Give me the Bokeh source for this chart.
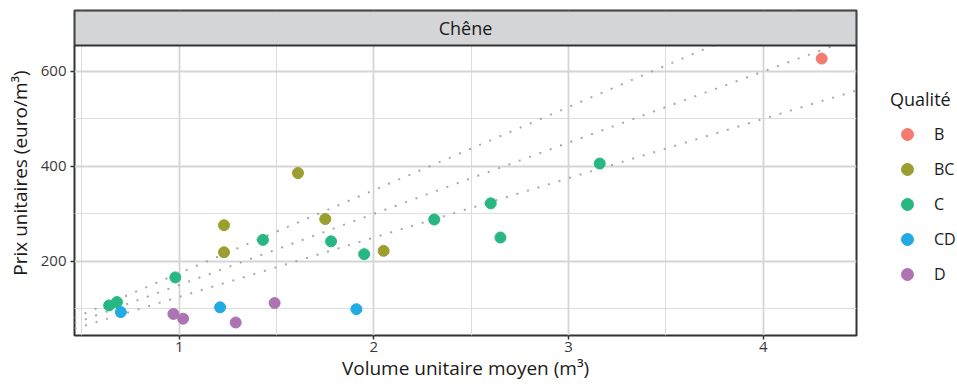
from bokeh.plotting import figure
from bokeh.layouts import row
from bokeh.models import Range1d, FixedTicker, Legend, LegendItem
from bokeh.embed import file_html
from bokeh.resources import INLINE
from bokeh.core.properties import value

# ---- data ----
qualites = ["B", "BC", "C", "CD", "D"]
couleurs = ["#F37B70", "#9C9E2F", "#27B783", "#22AAE2", "#AD73B3"]

vol_B = [4.30]
prix_B = [627]
vol_BC = [1.23, 1.23, 1.61, 1.75, 2.05]
prix_BC = [276, 219, 386, 289, 222]
vol_C = [0.64, 0.68, 0.98, 1.43, 1.78, 1.95, 2.31, 2.60, 2.65, 3.16]
prix_C = [107, 114, 166, 245, 242, 215, 288, 322, 250, 406]
vol_CD = [0.70, 1.21, 1.91]
prix_CD = [93, 103, 99]
vol_D = [0.97, 1.02, 1.29, 1.49]
prix_D = [89, 79, 71, 112]

pentes = [125, 150, 175]  # prix = pente * volume (dotted reference lines)

x_ticks = [1, 2, 3, 4]
x_minor = [0.5, 1.5, 2.5, 3.5]
y_ticks = [200, 400, 600]
y_minor = [100, 300, 500]

facet = "Chêne"
x_title = "Volume unitaire moyen (m³)"
y_title = "Prix unitaires (euro/m³)"
legend_title = "Qualité"

# ---- ranges (panel + strip) ----
X0, X1 = 0.462, 4.479
Y0, Y_PANEL_TOP, Y_TOP = 43.6, 654.7, 728.4

FONT = "Open Sans"
DARK = "#333333"
TXT = "#1a1a1a"

p = figure(width=870, height=388, output_backend="svg", toolbar_location=None,
           x_range=Range1d(X0, X1), y_range=Range1d(Y0, Y_TOP),
           min_border_left=74, min_border_right=14,
           min_border_top=10, min_border_bottom=53)
p.background_fill_color = "white"
p.border_fill_color = "white"
p.outline_line_color = DARK
p.outline_line_width = 2

p.xaxis.ticker = FixedTicker(ticks=x_ticks, minor_ticks=x_minor)
p.yaxis.ticker = FixedTicker(ticks=y_ticks, minor_ticks=y_minor)

for g in (p.xgrid, p.ygrid):
    g.grid_line_color = "#d5d5d5"
    g.grid_line_width = 1.8
    g.minor_grid_line_color = "#dddddd"
    g.minor_grid_line_width = 1.0

for ax in (p.xaxis, p.yaxis):
    ax.axis_line_color = None
    ax.major_tick_line_color = DARK
    ax.major_tick_line_width = 1.5
    ax.major_tick_out = 4
    ax.major_tick_in = 0
    ax.minor_tick_line_color = None
    ax.major_label_text_font = FONT
    ax.major_label_text_font_size = "15px"
    ax.major_label_text_color = "#3a3a3a"
    ax.axis_label_text_font = FONT
    ax.axis_label_text_font_size = "19px"
    ax.axis_label_text_font_style = "normal"
    ax.axis_label_text_color = TXT

p.xaxis.axis_label = x_title
p.yaxis.axis_label = y_title
p.xaxis.major_label_standoff = 2
p.yaxis.major_label_standoff = 4
p.xaxis.axis_label_standoff = 0
p.yaxis.axis_label_standoff = 5

# dotted reference lines
for k in pentes:
    p.line([X0, X1], [k * X0, k * X1], line_color="#a8a8a8", line_width=2,
           line_dash="2 9")

series = [(vol_B, prix_B), (vol_BC, prix_BC), (vol_C, prix_C),
          (vol_CD, prix_CD), (vol_D, prix_D)]
for c, (xs, ys) in zip(couleurs, series):
    p.scatter(xs, ys, size=11, color=c, line_color=c)

# facet strip
p.quad(left=[X0], right=[X1], bottom=[Y_PANEL_TOP], top=[Y_TOP],
       fill_color="#d4d5d7", line_color=DARK, line_width=2)
p.text(x=[(X0 + X1) / 2], y=[(Y_PANEL_TOP + Y_TOP) / 2], text=[facet],
       text_align="center", text_baseline="middle", text_font=value(FONT),
       text_font_size="18px", text_color=TXT)

# ---- legend in its own (axis-less) figure on the right ----
# its ranges lie outside the data, so its renderers only feed the legend
lg = figure(width=87, height=388, output_backend="svg", toolbar_location=None,
            x_axis_type=None, y_axis_type=None, min_border=0,
            x_range=Range1d(10, 11), y_range=Range1d(5000, 5001))
lg.grid.visible = False
lg.outline_line_color = None
lg.background_fill_color = "white"
lg.border_fill_color = "white"

items = []
for q, c, (xs, ys) in zip(qualites, couleurs, series):
    r = lg.scatter(xs, ys, size=11, color=c, line_color=c)
    items.append(LegendItem(label=q, renderers=[r]))

legend = Legend(items=items, title=legend_title, location=(20, 46),
                background_fill_alpha=0, border_line_color=None,
                padding=0, margin=0, spacing=5,
                glyph_height=30, glyph_width=34, label_height=30,
                label_standoff=10,
                label_text_font=FONT, label_text_font_size="16px",
                label_text_color=TXT,
                title_text_font=FONT, title_text_font_size="18px",
                title_text_font_style="normal", title_text_color=TXT,
                title_standoff=8)
lg.add_layout(legend)

layout = row(p, lg, spacing=0)
open("out.html", "w").write(file_html(layout, INLINE))
